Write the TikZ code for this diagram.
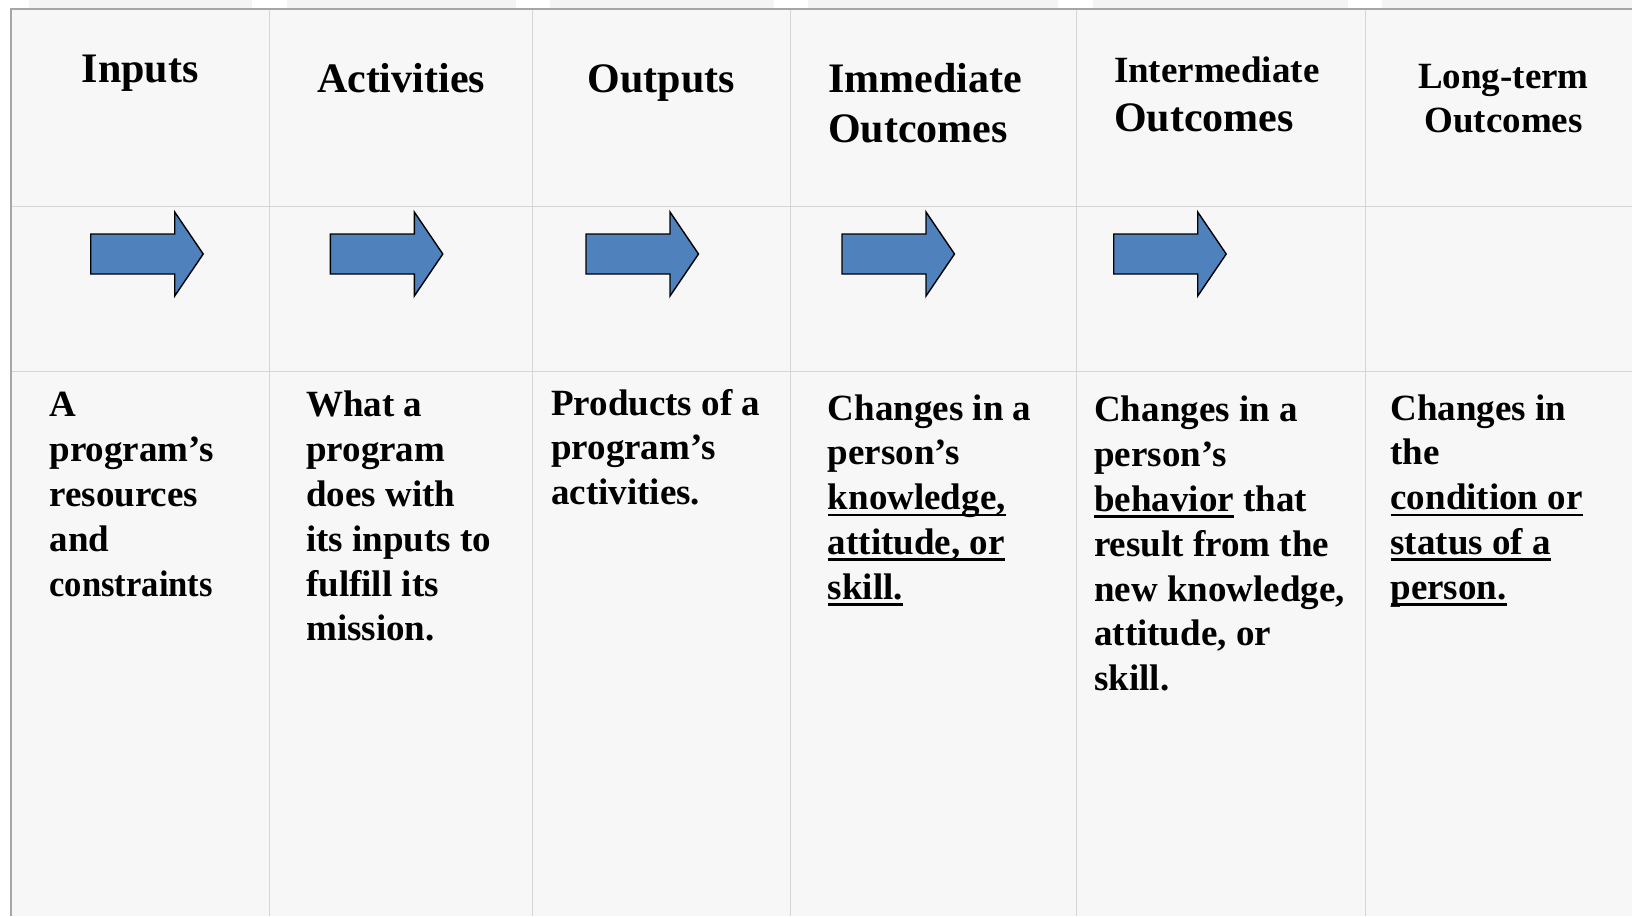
\documentclass[tikz,border=0pt]{standalone}
\usepackage{fontspec}
\usepackage{graphicx}
\setmainfont{Liberation Serif}
\definecolor{cellbg}{HTML}{F7F7F7}
\definecolor{gridc}{HTML}{D6D6D6}
\definecolor{borderc}{HTML}{A6A6A6}
\definecolor{arrowblue}{HTML}{4F81BD}
\definecolor{stripc}{HTML}{F4F4F4}
\newsavebox\ulbox
\newcommand\ulx[1]{\sbox\ulbox{#1}\rlap{\rule[-6.3pt]{\wd\ulbox}{2.4pt}}\usebox\ulbox}
\begin{document}
\begin{tikzpicture}[x=1pt,y=-1pt,
  hdr/.style={font=\fontsize{42}{50}\selectfont\bfseries, inner sep=0pt},
  hdrsmall/.style={font=\fontsize{37}{49}\selectfont\bfseries, inner sep=0pt},
  body/.style={font=\fontsize{37}{44.8}\selectfont\bfseries, inner sep=0pt, anchor=north west, align=left},
  tablegrid/.style={draw=gridc, line width=1pt},
  tableframe/.style={draw=borderc, line width=2.5pt},
  arrowshape/.style={fill=arrowblue, draw=black, line width=1.4pt, line join=miter},
  rarrow/.pic={\path[arrowshape] (0,-20) -- (84,-20) -- (84,-42) -- (112.5,0) -- (84,42) -- (84,20) -- (0,20) -- cycle;}]
\useasboundingbox (0,0) rectangle (1632,916);
\fill[white] (0,0) rectangle (1632,916);
% faint strips above the table
\foreach \a/\b in {29/252, 287/516, 550/774, 808/1058, 1093/1348, 1382/1632}
  \fill[stripc] (\a,0) rectangle (\b,8);
% table background
\fill[cellbg] (11,9) rectangle (1632,916);
% grid
\foreach \xx in {269.5, 532.5, 790.5, 1076.5, 1365}
  \draw[tablegrid] (\xx,9) -- (\xx,916);
\foreach \yy in {206.5, 371}
  \draw[tablegrid] (11,\yy) -- (1632,\yy);
% outer frame
\draw[tableframe] (11,916) -- (11,9) -- (1632,9);

% headers
\node[hdr, anchor=base] (hin) at (140.3,82.7) {Inputs};
\node[hdr, anchor=base] (hact) at (401,92.7) {Activities};
\node[hdr, anchor=base] (hout) at (661.2,92.5) {Outputs};
\node[hdr, anchor=north west, align=left] (himm) at (828,57.5) {\strut Immediate\\Outcomes};
\node[hdrsmall, anchor=north west, align=left] (hint) at (1113.8,47.7) {\strut Intermediate\\{\fontsize{42}{49}\selectfont Outcomes}};
\node[hdrsmall, font=\fontsize{37}{44.5}\selectfont\bfseries, anchor=north, align=center] (hlong) at (1503.5,56.9) {\strut Long-term\\Outcomes};

% arrows
\pic at (90.7,254) {rarrow};
\pic at (330.3,254) {rarrow};
\pic at (586,254) {rarrow};
\pic at (842,254) {rarrow};
\pic at (1113.7,254) {rarrow};

% body texts
\node[body] (bin) at (49.3,385.3) {\strut A\\program’s\\resources\\and\\\scalebox{0.935}[1]{constraints}};
\node[body] (bact) at (306,385.3) {\strut What a\\program\\does with\\its inputs to\\fulfill its\\mission.};
\node[body] (bout) at (551,383.6) {\strut Products of a\\program’s\\activities.};
\node[body] (bimm) at (827.7,388.6) {\strut Changes in a\\person’s\\\ulx{knowledge,}\\\ulx{attitude, or}\\\ulx{skill.}};
\node[body] (bint) at (1094,390.3) {\strut Changes in a\\person’s\\\ulx{behavior} that\\result from the\\new knowledge,\\attitude, or\\skill.};
\node[body] (blong) at (1390.3,388.6) {\strut Changes in\\the\\\ulx{condition or}\\\ulx{status of a}\\\ulx{person.}};
\end{tikzpicture}
\end{document}
